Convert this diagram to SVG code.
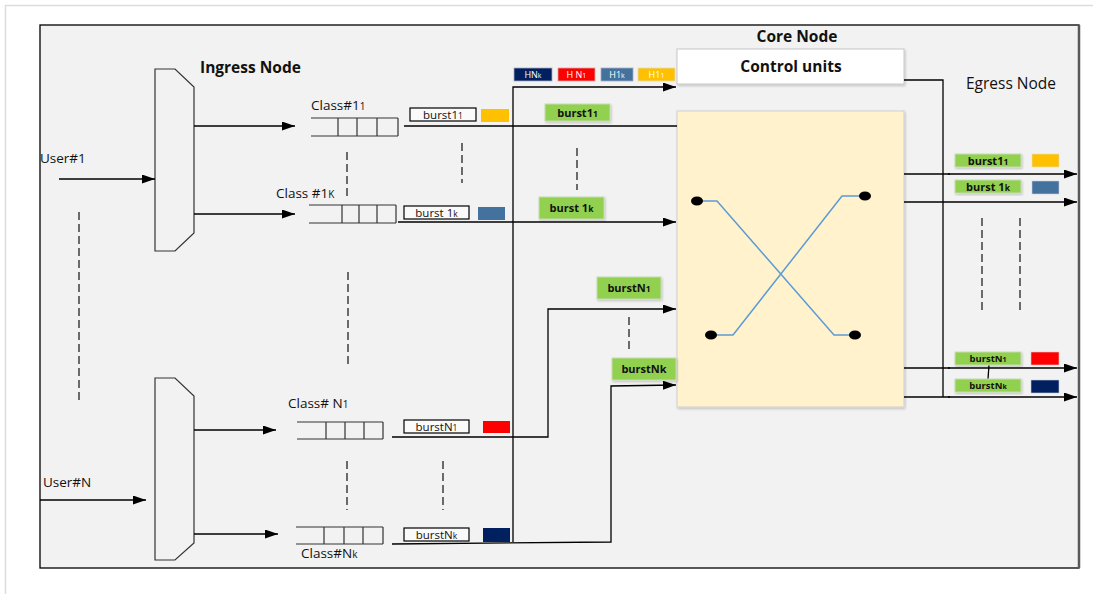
<svg xmlns="http://www.w3.org/2000/svg" width="1093" height="594" viewBox="0 0 1093 594">
<defs>
<marker id="ah" markerWidth="13" markerHeight="9" refX="13" refY="4.5" orient="auto" markerUnits="userSpaceOnUse"><path d="M0,0 L13,4.5 L0,9 z" fill="#000"/></marker>
<filter id="sh" x="-10%" y="-10%" width="130%" height="130%"><feDropShadow dx="1" dy="1.5" stdDeviation="1" flood-color="#000" flood-opacity="0.2"/></filter>
<style>
.t{font-family:"Open Sans","Noto Sans","Liberation Sans",sans-serif;fill:#111}
.b{font-weight:bold}
.ln{stroke:#000;stroke-width:1.3;fill:none}
.dash{stroke:#222;stroke-width:1.3;stroke-dasharray:8,4;fill:none}
.mux{fill:#f2f2f2;stroke:#333;stroke-width:1.2}
.q{stroke:#333;stroke-width:1.2;fill:none}
.wb{fill:#fafafa;stroke:#000;stroke-width:1.2}
.gb{fill:#92d050;stroke:#c5ddb0;stroke-width:1}
.hl{font-size:9px;fill:#fff}
.bl{font-size:11.5px}
.bg{font-size:11px}
.sub{font-size:8.5px}
</style>
</defs>
<rect x="5.5" y="5.5" width="1100" height="600" fill="#fff" stroke="#dcdcdc" stroke-width="1.5"/>
<rect x="40" y="25" width="1039" height="543" fill="#f2f2f2" stroke="#000" stroke-width="1.3"/>
<line x1="1079" y1="25" x2="1079" y2="568" stroke="#595959" stroke-width="2.5"/>

<g id="ingress1"><polygon class="mux" points="155,69 175,69 194,87 194,233 175,251 155,251"/></g>
<g id="ingress2"><polygon class="mux" points="155,378 175,378 194,396 194,543 175,560 155,560"/></g>
<text class="t b" x="200" y="73" font-size="15.5">Ingress Node</text>
<text class="t b" x="797" y="42" font-size="15.5" text-anchor="middle">Core Node</text>
<text class="t" x="966" y="89" font-size="15.5">Egress Node</text>

<g id="user1"><text class="t" x="40" y="163" font-size="13.5">User#1</text></g>
<g id="userN"><text class="t" x="43" y="487" font-size="13.5">User#N</text></g>

<g id="queue11">
<path class="q" d="M311,118 H398 M311,136 H398 M338,118 V136 M357,118 V136 M377,118 V136 M398,118 V136"/>
<text class="t" x="311" y="110" font-size="13.5">Class#1<tspan font-size="10">1</tspan></text>
</g>
<g id="queue1k">
<path class="q" d="M309,205 H396 M309,223 H396 M342,205 V223 M359,205 V223 M377,205 V223 M396,205 V223"/>
<text class="t" x="276" y="198" font-size="13.5">Class #1<tspan font-size="10">K</tspan></text>
</g>
<g id="queueN1">
<path class="q" d="M297,422 H383 M297,439 H383 M326,422 V439 M345,422 V439 M364,422 V439 M383,422 V439"/>
<text class="t" x="288" y="408" font-size="13.5">Class# N<tspan font-size="10">1</tspan></text>
</g>
<g id="queueNk">
<path class="q" d="M296,527 H383 M296,544 H383 M324,527 V544 M344,527 V544 M363,527 V544 M383,527 V544"/>
<text class="t" x="301" y="558" font-size="13.5">Class#N<tspan font-size="10">k</tspan></text>
</g>

<g id="control"><rect x="677" y="49" width="227" height="35" fill="#fff" stroke="#c8c8c8" filter="url(#sh)"/>
<text class="t b" x="791" y="72" font-size="15.5" text-anchor="middle">Control units</text></g>

<g id="switch">
<rect x="677" y="111" width="227" height="296" fill="#fff2cc" stroke="#cfcfcf" filter="url(#sh)"/>
<path d="M697,201 H717 L834,335 H855 M865,196 H842 L733,335 H711" fill="none" stroke="#5b9bd5" stroke-width="1.5"/>
<ellipse cx="697" cy="201" rx="6" ry="4.5"/>
<ellipse cx="865" cy="196" rx="6" ry="4.5"/>
<ellipse cx="711" cy="335" rx="6" ry="4.5"/>
<ellipse cx="855" cy="335" rx="6" ry="4.5"/>
</g>

<g id="connectors">
<path class="ln" d="M59,179 H155" marker-end="url(#ah)"/>
<path class="ln" d="M194,126 H295" marker-end="url(#ah)"/>
<path class="ln" d="M194,214 H295" marker-end="url(#ah)"/>
<path class="ln" d="M40,500 H146" marker-end="url(#ah)"/>
<path class="ln" d="M194,430 H276" marker-end="url(#ah)"/>
<path class="ln" d="M194,534 H278" marker-end="url(#ah)"/>
<path class="ln" d="M513,542 V87 H676" marker-end="url(#ah)"/>
<path class="ln" d="M404,126 H677"/>
<path class="ln" d="M398,222 H676" marker-end="url(#ah)"/>
<path class="ln" d="M392,437 H548 V309 H676" marker-end="url(#ah)"/>
<path class="ln" d="M392,544 L611,542 V386 L676,385" marker-end="url(#ah)"/>
<path class="ln" d="M904,80 H943 V397"/>
<path class="ln" d="M904,174 H950"/>
<path class="ln" d="M948,174 H1077" stroke-width="2.2" marker-end="url(#ah)"/>
<path class="ln" d="M904,202 H1077" marker-end="url(#ah)"/>
<path class="ln" d="M904,368 H950"/>
<path class="ln" d="M948,368 H1077" stroke-width="2.2" marker-end="url(#ah)"/>
<path class="ln" d="M904,397 H950"/>
<path class="ln" d="M948,397 H1077" stroke-width="2" marker-end="url(#ah)"/>
<path class="ln" d="M989,365 L988,379" stroke-width="1"/>
<path class="dash" d="M79,212 V403"/>
<path class="dash" d="M347,152 V200"/>
<path class="dash" d="M462,143 V183"/>
<path class="dash" d="M577,148 V190"/>
<path class="dash" d="M348,272 V367"/>
<path class="dash" d="M347,461 V510"/>
<path class="dash" d="M443,461 V510"/>
<path class="dash" d="M629,317 V351"/>
<path class="dash" d="M982,218 V311"/>
<path class="dash" d="M1020,218 V311"/>
</g>

<g id="headers">
<rect x="514" y="68" width="38" height="13" fill="#002060" stroke="#aab" stroke-width="0.8"/>
<text class="t hl" x="533" y="78" text-anchor="middle" style="fill:#fff">HN<tspan font-size="7">k</tspan></text>
<rect x="558" y="68" width="37" height="13" fill="#ff0000" stroke="#caa" stroke-width="0.8"/>
<text class="t hl" x="576.5" y="78" text-anchor="middle" style="fill:#fff">H N<tspan font-size="7">1</tspan></text>
<rect x="601" y="68" width="32" height="13" fill="#44729f" stroke="#aab" stroke-width="0.8"/>
<text class="t hl" x="617" y="78" text-anchor="middle" style="fill:#fff">H1<tspan font-size="7">k</tspan></text>
<rect x="638" y="68" width="37" height="13" fill="#ffc000" stroke="#ddc" stroke-width="0.8"/>
<text class="t hl" x="656.5" y="78" text-anchor="middle" style="fill:#fff">H1<tspan font-size="7">1</tspan></text>
</g>

<g id="bursts-in">
<rect class="wb" x="410" y="108" width="66" height="13"/>
<text class="t bl" x="443" y="118.5" text-anchor="middle">burst1<tspan class="sub">1</tspan></text>
<rect x="481" y="109" width="28" height="13" fill="#ffc000"/>
<rect class="wb" x="404" y="206" width="65" height="13"/>
<text class="t bl" x="436.5" y="216.5" text-anchor="middle">burst 1<tspan class="sub">k</tspan></text>
<rect x="478" y="207" width="27" height="13" fill="#44729f"/>
<rect class="wb" x="404" y="420" width="65" height="13"/>
<text class="t bl" x="436.5" y="430.5" text-anchor="middle">burstN<tspan class="sub">1</tspan></text>
<rect x="483" y="421" width="27" height="12" fill="#ff0000"/>
<rect class="wb" x="404" y="528" width="65" height="13"/>
<text class="t bl" x="436.5" y="538.5" text-anchor="middle">burstN<tspan class="sub">k</tspan></text>
<rect x="483" y="528" width="27" height="14" fill="#002060"/>
</g>

<g id="bursts-core">
<rect class="gb" x="545" y="104" width="65" height="17" filter="url(#sh)"/>
<text class="t b bg" x="577.5" y="116.5" text-anchor="middle">burst1<tspan class="sub">1</tspan></text>
<rect class="gb" x="539" y="197" width="65" height="22" filter="url(#sh)"/>
<text class="t b bg" x="571.5" y="212" text-anchor="middle">burst 1<tspan class="sub">k</tspan></text>
<rect class="gb" x="597" y="277" width="64" height="22" filter="url(#sh)"/>
<text class="t b bg" x="629" y="292" text-anchor="middle">burstN<tspan class="sub">1</tspan></text>
<rect class="gb" x="612" y="358" width="64" height="22" filter="url(#sh)"/>
<text class="t b bg" x="644" y="373" text-anchor="middle">burstNk</text>
</g>

<g id="bursts-out">
<rect class="gb" x="955" y="154" width="66" height="13" filter="url(#sh)"/>
<text class="t b bg" x="988" y="164.5" text-anchor="middle">burst1<tspan class="sub">1</tspan></text>
<rect x="1032" y="154" width="27" height="13" fill="#ffc000" stroke="#ddd" stroke-width="0.6"/>
<rect class="gb" x="955" y="180" width="66" height="13" filter="url(#sh)"/>
<text class="t b bg" x="988" y="190.5" text-anchor="middle">burst 1<tspan class="sub">k</tspan></text>
<rect x="1032" y="181" width="27" height="13" fill="#44729f" stroke="#ccd" stroke-width="0.6"/>
<rect class="gb" x="955" y="352" width="66" height="13" filter="url(#sh)"/>
<text class="t b" x="988" y="362" font-size="9.5" text-anchor="middle">burstN<tspan font-size="7">1</tspan></text>
<rect x="1031" y="352" width="28" height="13" fill="#ff0000" stroke="#dcc" stroke-width="0.6"/>
<rect class="gb" x="955" y="379" width="66" height="13" filter="url(#sh)"/>
<text class="t b" x="988" y="389" font-size="9.5" text-anchor="middle">burstN<tspan font-size="7">k</tspan></text>
<rect x="1031" y="380" width="28" height="13" fill="#002060" stroke="#ccd" stroke-width="0.6"/>
</g>
</svg>
